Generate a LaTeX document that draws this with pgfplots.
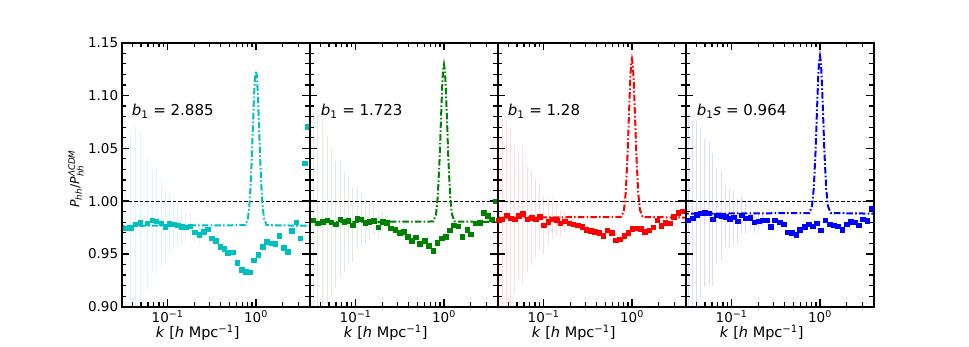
\documentclass[border=0pt]{standalone}
\usepackage{amsmath}
\usepackage{fontspec}
\setmainfont{DejaVu Sans}
\usepackage{pgfplots}
\usepackage{pgfplotstable}
\pgfplotsset{compat=1.18}
\usetikzlibrary{calc}
\definecolor{mc}{HTML}{00BFBF}
\definecolor{mg}{HTML}{008000}
\definecolor{mr}{HTML}{FF0000}
\definecolor{mb}{HTML}{0000FF}

% halo ratio, k in h/Mpc, e = error bar half length
\pgfplotstableread{
k v e
0.0333 0.9742 0.075
0.0382 0.9748 0.088
0.0431 0.9780 0.092
0.0491 0.9796 0.085
0.0589 0.9790 0.062
0.0670 0.9818 0.048
0.0743 0.9811 0.050
0.0845 0.9790 0.040
0.0937 0.9755 0.035
0.1047 0.9786 0.028
0.1174 0.9780 0.024
0.1303 0.9771 0.020
0.1445 0.9758 0.017
0.1615 0.9752 0.014
0.1805 0.9764 0.012
0.2037 0.9705 0.009
0.2276 0.9679 0.007
0.2551 0.9710 0.006
0.283 0.9733 0
0.316 0.9648 0
0.351 0.9625 0
0.392 0.9568 0
0.435 0.9549 0
0.482 0.9509 0
0.544 0.9515 0
0.615 0.9417 0
0.687 0.9348 0
0.762 0.9329 0
0.851 0.9326 0
0.944 0.9442 0
1.059 0.9490 0
1.183 0.9568 0
1.312 0.9613 0
1.482 0.9600 0
1.655 0.9594 0
1.837 0.9670 0
2.05 0.9556 0
2.275 0.9521 0
2.55 0.9717 0
2.85 0.9799 0
3.16 0.9650 0
3.53 1.0358 0
3.78 1.0705 0
}\dataA

\pgfplotstableread{
k v e
0.0331 0.9821 0.100
0.0376 0.9789 0.105
0.0428 0.9805 0.095
0.0478 0.9821 0.080
0.0531 0.9799 0.070
0.0593 0.9780 0.060
0.0670 0.9827 0.055
0.0748 0.9805 0.048
0.0830 0.9815 0.042
0.0930 0.9773 0.035
0.1040 0.9837 0.030
0.1153 0.9827 0.025
0.1288 0.9796 0.020
0.1429 0.9805 0.017
0.1600 0.9815 0.014
0.1800 0.9751 0.011
0.2020 0.9805 0.009
0.2260 0.9796 0.007
0.2506 0.9742 0
0.280 0.9732 0
0.314 0.9701 0
0.348 0.9710 0
0.386 0.9663 0
0.432 0.9625 0
0.482 0.9657 0
0.535 0.9594 0
0.604 0.9625 0
0.675 0.9575 0
0.757 0.9530 0
0.839 0.9606 0
0.938 0.9647 0
1.048 0.9663 0
1.162 0.9726 0
1.289 0.9773 0
1.445 0.9764 0
1.615 0.9663 0
1.823 0.9732 0
2.02 0.9688 0
2.26 0.9789 0
2.525 0.9796 0
2.80 0.9890 0
3.14 0.9862 0
3.48 0.9827 0
3.79 1.0000 0
}\dataB

\pgfplotstableread{
k v e
0.0312 0.9821 0.080
0.0340 0.9830 0.095
0.0381 0.9868 0.090
0.0423 0.9837 0.085
0.0469 0.9830 0.070
0.0525 0.9859 0.060
0.0582 0.9878 0.065
0.0653 0.9827 0.050
0.0730 0.9843 0.045
0.0810 0.9830 0.038
0.0906 0.9852 0.032
0.1005 0.9773 0.028
0.1127 0.9805 0.022
0.1250 0.9827 0.019
0.1400 0.9821 0.016
0.1550 0.9789 0.013
0.1740 0.9811 0.010
0.1946 0.9789 0.008
0.2160 0.9783 0.006
0.243 0.9773 0
0.273 0.9758 0
0.305 0.9732 0
0.339 0.9717 0
0.379 0.9710 0
0.425 0.9701 0
0.471 0.9672 0
0.523 0.9726 0
0.590 0.9701 0
0.655 0.9631 0
0.726 0.9641 0
0.813 0.9672 0
0.903 0.9701 0
1.002 0.9736 0
1.121 0.9742 0
1.256 0.9736 0
1.393 0.9710 0
1.560 0.9726 0
1.730 0.9751 0
1.920 0.9821 0
2.150 0.9767 0
2.380 0.9796 0
2.670 0.9789 0
2.960 0.9852 0
3.320 0.9890 0
3.680 0.9906 0
}\dataC

\pgfplotstableread{
k v e
0.0322 0.9821 0.100
0.0361 0.9837 0.092
0.0404 0.9874 0.088
0.0449 0.9884 0.080
0.0498 0.9890 0.070
0.0557 0.9884 0.068
0.0608 0.9830 0.063
0.0680 0.9868 0.045
0.0769 0.9862 0.042
0.0860 0.9852 0.030
0.0954 0.9833 0.028
0.1050 0.9846 0.025
0.1166 0.9811 0.021
0.1300 0.9868 0.018
0.1446 0.9837 0.015
0.1620 0.9843 0.012
0.1795 0.9802 0.010
0.2014 0.9811 0.008
0.2253 0.9821 0.006
0.250 0.9821 0
0.2773 0.9755 0
0.310 0.9821 0
0.348 0.9802 0
0.386 0.9780 0
0.4315 0.9707 0
0.4786 0.9701 0
0.5357 0.9682 0
0.594 0.9732 0
0.667 0.9755 0
0.745 0.9780 0
0.828 0.9764 0
0.918 0.9789 0
1.026 0.9726 0
1.151 0.9821 0
1.288 0.9780 0
1.429 0.9770 0
1.597 0.9764 0
1.790 0.9732 0
2.000 0.9780 0
2.220 0.9805 0
2.470 0.9799 0
2.760 0.9770 0
3.060 0.9827 0
3.430 0.9815 0
3.810 0.9931 0
}\dataD

\pgfplotsset{
  halopanel/.style={
    scale only axis, width=188pt, height=264pt,
    xmin=0.0303, xmax=4.05, ymin=0.9, ymax=1.15,
    xtick={0.1,1}, xticklabels={10\textsuperscript{−1},10\textsuperscript{0}},
    minor xtick={0.04,0.05,0.06,0.07,0.08,0.09,0.2,0.3,0.4,0.5,0.6,0.7,0.8,0.9,2,3,4},
    ytick={0.9,0.95,1,1.05,1.1,1.15}, minor y tick num=4,
    tick align=inside, tick pos=both,
    major tick length=7.5pt, minor tick length=4.5pt,
    major tick style={black, line width=1.4pt},
    minor tick style={black, line width=1.2pt},
    axis line style={black, line width=2pt},
    tick label style={font=\fontsize{13.5}{16}\selectfont},
    xlabel={\textit{k} [\textit{h} Mpc$^{\text{−1}}$]},
    xlabel style={font=\fontsize{14.5}{17}\selectfont, at={(axis description cs:0.5,0)}, anchor=center, yshift=-26pt, xshift=-18pt},
  },
  halopts/.style={only marks, mark=square*, mark size=2.3pt, color=#1},
  halofit/.style={color=#1, line width=2pt, dash pattern=on 6.5pt off 2.2pt on 1.6pt off 2.2pt},
  halounit/.style={black, line width=1pt, dash pattern=on 3.5pt off 2pt, forget plot},
  haloerr/.style={draw=none, mark=none, forget plot, error bars/y dir=both, error bars/y explicit, error bars/error mark=none,
    error bars/error bar style={draw=#1, draw opacity=0.14, line width=1pt}},
}
\tikzset{halotext/.style={anchor=west, inner sep=0pt, font=\fontsize{15}{18}\selectfont}}

\begin{document}
\begin{tikzpicture}
\begin{semilogxaxis}[halopanel, name=p1,
  yticklabels={0.90,0.95,1.00,1.05,1.10,1.15},
  ylabel={\textit{P}$_{\textit{hh}}$/\textit{P}$_{\textit{hh}}^{\textit{ΛCDM}}$},
  ylabel style={font=\fontsize{12.5}{15}\selectfont, at={(axis description cs:-0.243,0.484)}, anchor=center},
]
\addplot[haloerr=mc] table[x=k, y=v, y error=e] {\dataA};
\addplot[halounit] coordinates {(0.01,1) (10,1)};
\addplot[halofit=mc] coordinates {(0.025,0.9765) (0.7586,0.9772) (0.8128,0.9838) (0.8511,1.0003) (0.8913,1.0346) (0.9226,1.0698) (0.9550,1.1032) (0.9772,1.1182) (1,1.1235) (1.0233,1.1182) (1.0471,1.1032) (1.0839,1.0698) (1.1220,1.0346) (1.1749,1.0003) (1.2303,0.9838) (1.3183,0.9772) (5,0.9765)};
\addplot[halopts=mc] table[x=k, y=v] {\dataA};
\node[halotext] at (axis description cs:0.053,0.739) {\textit{b}$_{\text{1}}$ = 2.885};
\end{semilogxaxis}

\begin{semilogxaxis}[halopanel, name=p2, at={(p1.south east)}, anchor=south west, yticklabels={}]
\addplot[haloerr=mg] table[x=k, y=v, y error=e] {\dataB};
\addplot[halounit] coordinates {(0.01,1) (10,1)};
\addplot[halofit=mg] coordinates {(0.025,0.9800) (0.7586,0.9807) (0.8128,0.9874) (0.8511,1.0042) (0.8913,1.0391) (0.9226,1.0749) (0.9550,1.1089) (0.9772,1.1241) (1,1.1295) (1.0233,1.1241) (1.0471,1.1089) (1.0839,1.0749) (1.1220,1.0391) (1.1749,1.0042) (1.2303,0.9874) (1.3183,0.9807) (5,0.9800)};
\addplot[halopts=mg] table[x=k, y=v] {\dataB};
\node[halotext] at (axis description cs:0.058,0.739) {\textit{b}$_{\text{1}}$ = 1.723};
\end{semilogxaxis}

\begin{semilogxaxis}[halopanel, name=p3, at={(p2.south east)}, anchor=south west, yticklabels={}]
\addplot[haloerr=mr] table[x=k, y=v, y error=e] {\dataC};
\addplot[halounit] coordinates {(0.01,1) (10,1)};
\addplot[halofit=mr] coordinates {(0.025,0.9843) (0.7586,0.9850) (0.8128,0.9917) (0.8511,1.0086) (0.8913,1.0436) (0.9226,1.0796) (0.9550,1.1136) (0.9772,1.1289) (1,1.1343) (1.0233,1.1289) (1.0471,1.1136) (1.0839,1.0796) (1.1220,1.0436) (1.1749,1.0086) (1.2303,0.9917) (1.3183,0.9850) (5,0.9843)};
\addplot[halopts=mr] table[x=k, y=v] {\dataC};
\node[halotext] at (axis description cs:0.053,0.739) {\textit{b}$_{\text{1}}$ = 1.28};
\end{semilogxaxis}

\begin{semilogxaxis}[halopanel, name=p4, at={(p3.south east)}, anchor=south west, yticklabels={}]
\addplot[haloerr=mb] table[x=k, y=v, y error=e] {\dataD};
\addplot[halounit] coordinates {(0.01,1) (10,1)};
\addplot[halofit=mb] coordinates {(0.025,0.9880) (0.7586,0.9887) (0.8128,0.9954) (0.8511,1.0122) (0.8913,1.0470) (0.9226,1.0829) (0.9550,1.1168) (0.9772,1.1320) (1,1.1374) (1.0233,1.1320) (1.0471,1.1168) (1.0839,1.0829) (1.1220,1.0470) (1.1749,1.0122) (1.2303,0.9954) (1.3183,0.9887) (5,0.9880)};
\addplot[halopts=mb] table[x=k, y=v] {\dataD};
\node[halotext] at (axis description cs:0.058,0.739) {\textit{b}$_{\text{1}}$\textit{s} = 0.964};
\end{semilogxaxis}

\pgfresetboundingbox
\path ($(p1.south west)+(-121.7pt,-39.3pt)$) rectangle ++(969pt,346pt);
\end{tikzpicture}
\end{document}
